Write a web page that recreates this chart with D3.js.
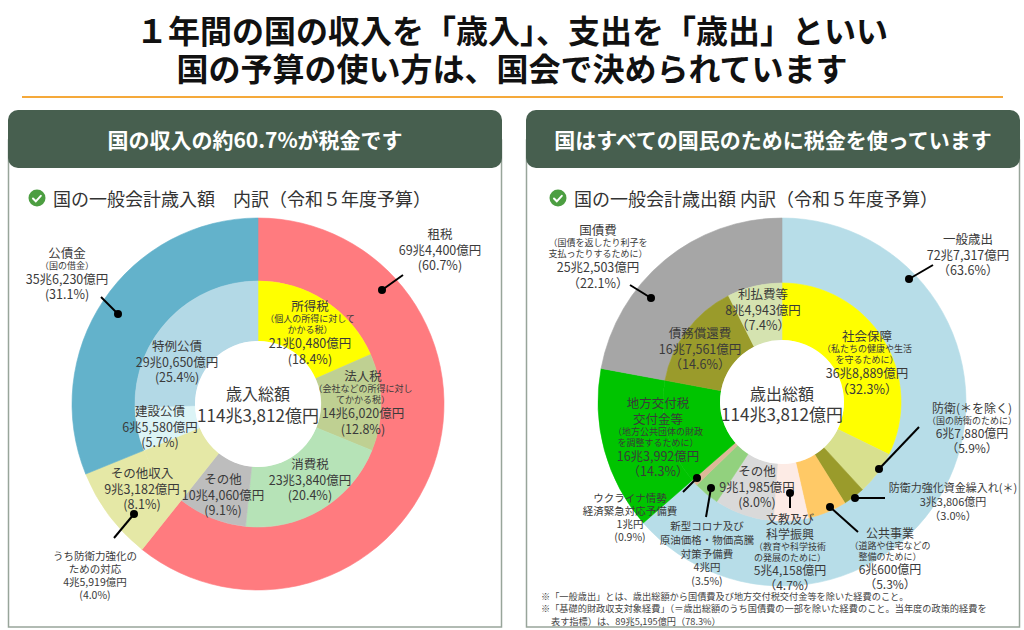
<!DOCTYPE html>
<meta charset="utf-8">
<head>
  <title>歳入と歳出</title>
</head>
<style>
body { margin: 0; background: #fff; }
text { font-family: "Noto Sans CJK JP", "Noto Sans", sans-serif; fill: #3a3a3a; }
.title { font-size: 32px; font-weight: 700; fill: #111; }
.head { font-size: 21px; font-weight: 700; fill: #fff; }
.sub { font-size: 18px; fill: #333; }
.note { font-size: 9.2px; fill: #444; }
</style>
<body>
<svg width="1024" height="630"></svg>
<script src="https://cdnjs.cloudflare.com/ajax/libs/d3/7.8.5/d3.min.js"></script>
<script>
// 歳入（億円）
var revOuterNames = ["租税", "その他収入", "公債金"];
var revOuterValues = [694400, 93182, 356230];
var revOuterAmounts = ["69兆4,400億円", "9兆3,182億円", "35兆6,230億円"];
var revOuterDesc = ["", "", "（国の借金）"];
var revInnerNames = ["所得税", "法人税", "消費税", "その他", "その他収入", "建設公債", "特例公債"];
var revInnerValues = [210480, 146020, 233840, 104060, 93182, 65580, 290650];
var revInnerAmounts = ["21兆0,480億円", "14兆6,020億円", "23兆3,840億円", "10兆4,060億円", "9兆3,182億円", "6兆5,580億円", "29兆0,650億円"];
var revInnerDesc = ["（個人の所得に対して\nかかる税）", "（会社などの所得に対し\nてかかる税）", "", "", "", "", ""];
var revDefense = ["うち防衛力強化の", "ための対応", "4兆5,919億円", "(4.0%)"];

// 歳出（億円）
var expOuterNames = ["一般歳出", "地方交付税\n交付金等", "国債費"];
var expOuterValues = [727317, 163992, 252503];
var expOuterAmounts = ["72兆7,317億円", "16兆3,992億円", "25兆2,503億円"];
var expOuterDesc = ["", "（地方公共団体の財政\nを調整するために）", "（国債を返したり利子を\n支払ったりするために）"];
var expInnerNames = ["社会保障", "防衛(＊を除く)", "防衛力強化資金繰入れ(＊)", "公共事業", "文教及び\n科学振興", "その他",
  "新型コロナ及び\n原油価格・物価高騰\n対策予備費", "ウクライナ情勢\n経済緊急対応予備費", "地方交付税交付金等", "債務償還費", "利払費等"];
var expInnerValues = [368889, 67880, 33806, 60600, 54158, 91985, 40000, 10000, 163992, 167561, 84943];
var expInnerAmounts = ["36兆8,889億円", "6兆7,880億円", "3兆3,806億円", "6兆600億円", "5兆4,158億円", "9兆1,985億円",
  "4兆円", "1兆円", "16兆3,992億円", "16兆7,561億円", "8兆4,943億円"];
var expInnerDesc = ["（私たちの健康や生活\nを守るために）", "（国の防衛のために）", "", "（道路や住宅などの\n整備のために）",
  "（教育や科学技術\nの発展のために）", "", "", "", "", "", ""];

var totalLabel = "114兆3,812億円";
var notes = [
  "※「一般歳出」とは、歳出総額から国債費及び地方交付税交付金等を除いた経費のこと。",
  "※「基礎的財政収支対象経費」（＝歳出総額のうち国債費の一部を除いた経費のこと。当年度の政策的経費を",
  "表す指標）は、89兆5,195億円（78.3%）"
];

// colours
var revOuterColors = ["#ff7b7f", "#e5e8a6", "#63b2cb"];
var revInnerColors = ["#ffff00", "#bfd092", "#b6e3b7", "#bdbdbd", "#e5e8a6", "#dcf4f6", "#b3d9e6"];
var expOuterColors = ["#b7dde8", "#00c400", "#a6a6a6"];
var expInnerColors = ["#ffff00", "#d8e08e", "#9a9b2b", "#ffc966", "#fdebe5", "#d9d9d9", "#92d17e", "#dcb898", "#00c400", "#9a9b2b", "#d5e3b0"];

var svg = d3.select("svg");

// title
svg.append("text").attr("class", "title").attr("x", 512).attr("y", 29).attr("text-anchor", "middle")
  .attr("dominant-baseline", "central").text("１年間の国の収入を「歳入」、支出を「歳出」といい");
svg.append("text").attr("class", "title").attr("x", 512).attr("y", 67).attr("text-anchor", "middle")
  .attr("dominant-baseline", "central").text("国の予算の使い方は、国会で決められています");
svg.append("line").attr("x1", 22).attr("x2", 1003).attr("y1", 97).attr("y2", 97)
  .attr("stroke", "#f5a93a").attr("stroke-width", 2);

function panel(x, head, sub, subX) {
  svg.append("rect").attr("x", x + 0.5).attr("y", 140).attr("width", 493).attr("height", 487)
    .attr("fill", "#fff").attr("stroke", "#98a59a").attr("stroke-width", 1.5);
  svg.append("rect").attr("x", x).attr("y", 110).attr("width", 494).attr("height", 58).attr("rx", 10)
    .attr("fill", "#475f4f");
  svg.append("text").attr("class", "head").attr("x", x + 247).attr("y", 139).attr("text-anchor", "middle")
    .attr("dominant-baseline", "central").text(head);
  svg.append("circle").attr("cx", subX).attr("cy", 198).attr("r", 8.5).attr("fill", "#4c9e41");
  svg.append("path").attr("d", "M" + (subX - 4) + ",198.5 l2.8,2.8 l5,-5.5")
    .attr("fill", "none").attr("stroke", "#fff").attr("stroke-width", 2).attr("stroke-linecap", "round");
  svg.append("text").attr("class", "sub").attr("x", subX + 16).attr("y", 198)
    .attr("dominant-baseline", "central").text(sub);
}
panel(8, "国の収入の約60.7%が税金です", "国の一般会計歳入額　内訳（令和５年度予算）", 37);
panel(526, "国はすべての国民のために税金を使っています", "国の一般会計歳出額 内訳（令和５年度予算）", 558);

var pie = d3.pie().sort(null).value(function(d) { return d.v; });

function ring(g, values, colors, r0, r1) {
  var items = values.map(function(v, i) { return {v: v, c: colors[i]}; });
  var arc = d3.arc().innerRadius(r0).outerRadius(r1);
  g.append("g").selectAll("path").data(pie(items)).join("path")
    .attr("d", arc)
    .attr("fill", function(d) { return d.data.c; })
    .attr("stroke", function(d) { return d.data.c; })
    .attr("stroke-width", 0.6);
}

// one text element per label, one tspan per line
function block(g, x, y, lines, lh) {
  var cy = y, prev = null;
  var t = g.append("text").attr("text-anchor", "middle").attr("dominant-baseline", "central");
  lines.forEach(function(l) {
    if (prev) {
      cy += lh ? lh : (prev.s === l.s ? l.s * 1.25 : (prev.s + l.s) / 2 * 1.2);
    }
    t.append("tspan").attr("x", x).attr("y", cy).attr("dominant-baseline", "central")
      .style("font-size", l.s + "px").text(l.t);
    prev = l;
  });
}

function pct(v, total, wide) {
  var p = d3.format(".1f")(v / total * 100) + "%";
  return wide ? "（" + p + "）" : "(" + p + ")";
}

function labelLines(name, desc, amount, p, m, s) {
  var out = [];
  name.split("\n").forEach(function(t) { out.push({t: t, s: m}); });
  if (desc) desc.split("\n").forEach(function(t) { out.push({t: t, s: s}); });
  out.push({t: amount, s: m});
  out.push({t: p, s: m});
  return out;
}

function leaders(g, list) {
  list.forEach(function(d) {
    g.append("line").attr("x1", d[0]).attr("y1", d[1]).attr("x2", d[2]).attr("y2", d[3])
      .attr("stroke", "#000").attr("stroke-width", 2);
    g.append("circle").attr("cx", d[0]).attr("cy", d[1]).attr("r", 4).attr("fill", "#000");
  });
}

// ---- 歳入 ----
var revTotal = d3.sum(revOuterValues);
var gRev = svg.append("g").attr("transform", "translate(258,404)");
ring(gRev, revOuterValues, revOuterColors, 123, 186);
ring(gRev, revInnerValues, revInnerColors, 63, 123);
gRev.append("circle").attr("r", 63).attr("fill", "#fff");

var revLayout = [
  {o: true, i: 0, x: 182, y: -171},
  {o: true, i: 1, x: -116, y: 68},
  {o: true, i: 2, x: -191, y: -152},
  {o: false, i: 0, x: 52, y: -99},
  {o: false, i: 1, x: 105, y: -29},
  {o: false, i: 2, x: 52, y: 59},
  {o: false, i: 3, x: -35, y: 74},
  {o: false, i: 5, x: -98, y: 6},
  {o: false, i: 6, x: -81, y: -59}
];
var gRevL = svg.append("g").attr("transform", "translate(258,404)");
revLayout.forEach(function(L) {
  var n = L.o ? revOuterNames : revInnerNames, v = L.o ? revOuterValues : revInnerValues;
  var a = L.o ? revOuterAmounts : revInnerAmounts, ds = L.o ? revOuterDesc : revInnerDesc;
  block(gRevL, L.x, L.y, labelLines(n[L.i], ds[L.i], a[L.i], pct(v[L.i], revTotal, false), 12.5, 9));
});
block(gRevL, -163, 151, revDefense.map(function(t) { return {t: t, s: 10.5}; }), 13);
block(gRevL, 0, -11, [{t: "歳入総額", s: 16}, {t: totalLabel, s: 17}], 21);
leaders(gRevL, [[124, -114, 145, -129], [-140, -90, -157, -107], [-124, 110, -144, 134]]);

// ---- 歳出 ----
var expTotal = d3.sum(expOuterValues);
var gExp = svg.append("g").attr("transform", "translate(782,402)");
ring(gExp, expOuterValues, expOuterColors, 119, 184);
ring(gExp, expInnerValues, expInnerColors, 62, 119);
gExp.append("circle").attr("r", 62).attr("fill", "#fff");

var expLayout = [
  {o: true, i: 0, x: 186, y: -164, m: 12.5, w: true},
  {o: true, i: 1, x: -124, y: 0, m: 12.5, w: true},
  {o: true, i: 2, x: -184, y: -173, m: 12.5, w: true},
  {o: false, i: 0, x: 85, y: -67, m: 12.5, w: true},
  {o: false, i: 1, x: 190, y: 5, m: 12, w: true},
  {o: false, i: 2, x: 171, y: 85, m: 11, w: true},
  {o: false, i: 3, x: 108, y: 130, m: 12, w: true},
  {o: false, i: 4, x: 8, y: 116, m: 12, w: true},
  {o: false, i: 5, x: -25, y: 68, m: 12.5, w: false},
  {o: false, i: 6, x: -75, y: 123, m: 10.5, w: false, lh: 13.8},
  {o: false, i: 7, x: -152, y: 95, m: 10.5, w: false},
  {o: false, i: 9, x: -82, y: -70, m: 12.5, w: true},
  {o: false, i: 10, x: -19, y: -109, m: 12.5, w: true}
];
var gExpL = svg.append("g").attr("transform", "translate(782,402)");
expLayout.forEach(function(L) {
  var n = L.o ? expOuterNames : expInnerNames, v = L.o ? expOuterValues : expInnerValues;
  var a = L.o ? expOuterAmounts : expInnerAmounts, ds = L.o ? expOuterDesc : expInnerDesc;
  block(gExpL, L.x, L.y, labelLines(n[L.i], ds[L.i], a[L.i], pct(v[L.i], expTotal, L.w), L.m, 9), L.lh);
});
block(gExpL, 0, -9, [{t: "歳出総額", s: 16}, {t: totalLabel, s: 17}], 20);
leaders(gExpL, [[127, -123, 151, -137], [-131, -104, -152, -117], [97, 67, 137, 25], [73, 96, 103, 96],
  [48, 105, 76, 130], [8, 91, 8, 106], [-71, 86, -76, 115], [-85, 76, -99, 90]]);

// notes
var noteText = svg.append("text").attr("class", "note").attr("dominant-baseline", "central");
noteText.selectAll("tspan").data(notes).join("tspan")
  .attr("x", function(d, i) { return i === 2 ? 551 : 541; })
  .attr("y", function(d, i) { return 596 + i * 12.3; })
  .attr("dominant-baseline", "central").text(function(d) { return d; });
</script>
</body>
